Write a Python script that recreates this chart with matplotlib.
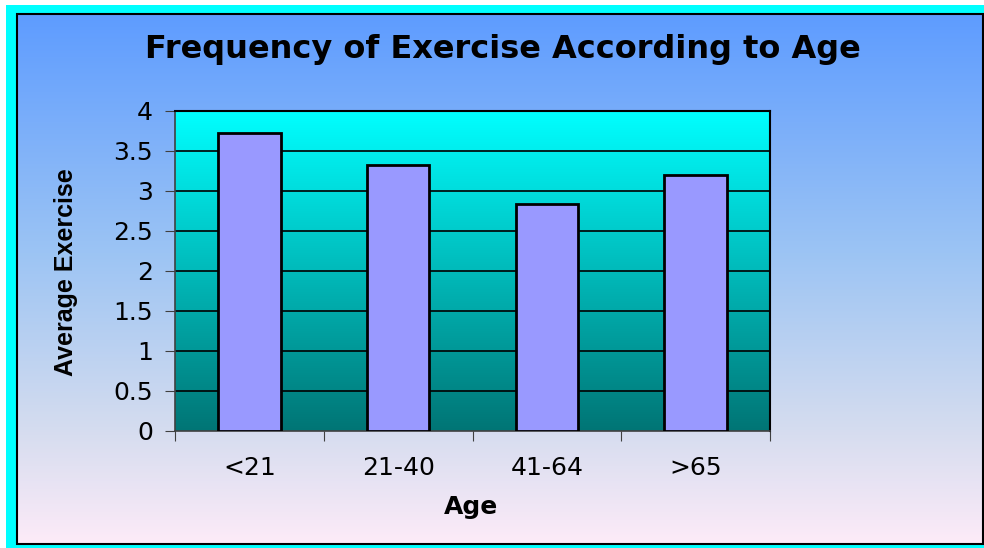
import numpy as np
import matplotlib
matplotlib.use("Agg")
import matplotlib.pyplot as plt
from matplotlib.colors import LinearSegmentedColormap
from matplotlib.patches import Rectangle

plt.rcParams['font.family'] = ['DejaVu Sans']

# data
categories = ['<21', '21-40', '41-64', '>65']
avg_exercise = [3.72, 3.33, 2.84, 3.20]
y_ticks = [0, 0.5, 1, 1.5, 2, 2.5, 3, 3.5, 4]
y_tick_labels = ['0', '0.5', '1', '1.5', '2', '2.5', '3', '3.5', '4']

W, H = 984, 548
fig = plt.figure(figsize=(W / 100, H / 100), dpi=100)
fig.patch.set_facecolor('white')

# figure background: white margin, cyan frame, gradient panel
bg = fig.add_axes([0, 0, 1, 1], zorder=-10)
bg.axis('off')
bg.add_patch(Rectangle((6, 5), W - 6, H - 5, facecolor='#00FFFF', edgecolor='none', zorder=1))
fig_cmap = LinearSegmentedColormap.from_list(
    'figbg', [(0.0, '#5E9CFF'), (0.45, '#9CC4F4'), (0.78, '#D4DCEF'), (1.0, '#FDEBF8')])
grad = np.linspace(0, 1, 256).reshape(-1, 1)
bg.imshow(grad, cmap=fig_cmap, aspect='auto', extent=(17, 983, 544, 14),
          interpolation='bilinear', zorder=2)
bg.add_patch(Rectangle((17, 14), 966, 530, facecolor='none', edgecolor='black',
                       lw=1.5, zorder=3))
bg.set_xlim(0, W)
bg.set_ylim(H, 0)

# plot area
ax = fig.add_axes([175 / W, 1 - 431 / H, 595 / W, 320 / H])
x = np.arange(len(categories))

plot_cmap = LinearSegmentedColormap.from_list('plotbg', ['#00FFFF', '#007575'])
ax.imshow(grad, cmap=plot_cmap, aspect='auto', extent=(-0.5, 3.5, 0, 4),
          interpolation='bilinear', zorder=0)
ax.set_xlim(-0.5, len(categories) - 0.5)
ax.set_ylim(0, 4)

for t in y_ticks[1:-1]:
    ax.axhline(t, color='black', lw=1.2, zorder=1)

ax.bar(x, avg_exercise, width=0.42, color='#9999FF', edgecolor='black',
       linewidth=2, zorder=3)

ax.set_yticks(y_ticks)
ax.set_yticklabels(y_tick_labels, fontsize=18)
ax.set_xticks(np.arange(-0.5, len(categories), 1))
ax.set_xticklabels([])
ax.set_xticks(x, minor=True)
ax.set_xticklabels(categories, minor=True, fontsize=18)
ax.tick_params(axis='x', which='minor', length=0, pad=18)
ax.tick_params(axis='x', which='major', length=7, direction='out', color='#404040')
ax.tick_params(axis='y', length=7, direction='out', color='#404040', pad=9)

for side in ['left', 'bottom']:
    ax.spines[side].set_color('#404040')
    ax.spines[side].set_linewidth(1.2)
for side in ['top', 'right']:
    ax.spines[side].set_color('black')
    ax.spines[side].set_linewidth(1.5)

fig.text(503 / W, 1 - 58 / H, 'Frequency of Exercise According to Age',
         fontsize=23, fontweight='bold', ha='center', va='baseline')
fig.text(471 / W, 1 - 514 / H, 'Age', fontsize=18, fontweight='bold',
         ha='center', va='baseline')
fig.text(73 / W, 1 - 272 / H, 'Average Exercise', fontsize=18, fontweight='bold',
         family='Liberation Sans', ha='center', va='baseline', rotation=90,
         rotation_mode='anchor')

fig.savefig('out.png', dpi=100)
